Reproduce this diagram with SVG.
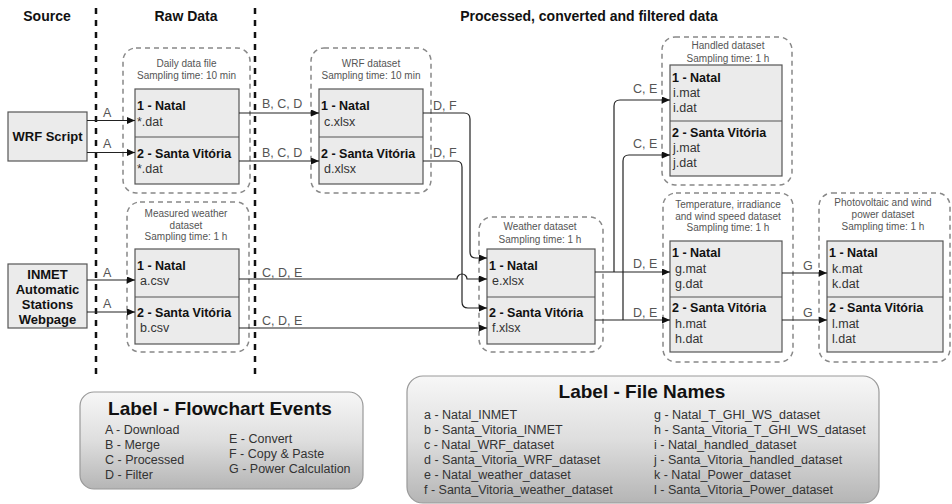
<svg xmlns="http://www.w3.org/2000/svg" width="952" height="504" viewBox="0 0 952 504">
<defs>
<marker id="arr" markerUnits="userSpaceOnUse" markerWidth="8" markerHeight="7" refX="8" refY="3.5" orient="auto"><path d="M0,0 L8,3.5 L0,7 z" fill="#111"/></marker>
<linearGradient id="lg" x1="0" y1="0" x2="0" y2="1"><stop offset="0" stop-color="#f7f7f7"/><stop offset="0.5" stop-color="#dedede"/><stop offset="1" stop-color="#b5b5b5"/></linearGradient>
<style>
text{font-family:"Liberation Sans",Arial,sans-serif}
.hdr{font-size:14px;font-weight:bold;fill:#111}
.grp{fill:none;stroke:#888;stroke-width:1.5;stroke-dasharray:5 4}
.box{fill:#ebebeb;stroke:#555;stroke-width:1.2}
.src{fill:#ebebeb;stroke:#555;stroke-width:1.2}
.gt{font-size:10px;fill:#555;text-anchor:middle}
.bt{font-size:12.5px;font-weight:bold;fill:#111}
.ft{font-size:12.5px;fill:#333}
.el{font-size:12.5px;fill:#555}
.st{font-size:13px;font-weight:bold;fill:#111;text-anchor:middle}
.sep{stroke:#111;stroke-width:2.5;stroke-dasharray:6 6;fill:none}
.con path{fill:none;stroke:#222;stroke-width:1.2}
.leg{fill:url(#lg);stroke:#999;stroke-width:1.2}
.lt{font-size:19px;font-weight:bold;fill:#111;text-anchor:middle}
.li{font-size:12.5px;fill:#333}
</style>
</defs>
<rect width="952" height="504" fill="#fff"/>

<g id="headers">
<text class="hdr" x="47" y="21" text-anchor="middle">Source</text>
<text class="hdr" x="186" y="21" text-anchor="middle">Raw Data</text>
<text class="hdr" x="589" y="21" text-anchor="middle">Processed, converted and filtered data</text>
<line class="sep" x1="96" y1="8" x2="96" y2="378"/>
<line class="sep" x1="255" y1="8" x2="255" y2="378"/>
</g>

<g id="wrf-script">
<rect class="src" x="8" y="112" width="79" height="49"/>
<text class="st" x="47.5" y="141">WRF Script</text>
</g>

<g id="inmet">
<rect class="src" x="8" y="264" width="79" height="64"/>
<text class="st" x="47.5" y="279">INMET</text>
<text class="st" x="47.5" y="294">Automatic</text>
<text class="st" x="47.5" y="309">Stations</text>
<text class="st" x="47.5" y="324">Webpage</text>
</g>

<g id="daily-data">
<rect class="grp" x="123" y="48" width="127" height="145" rx="13"/>
<text class="gt" x="186.5" y="67">Daily data file</text>
<text class="gt" x="186.5" y="79">Sampling time: 10 min</text>
<rect class="box" x="135" y="89" width="104" height="95"/>
<line x1="135" y1="137" x2="239" y2="137" stroke="#555" stroke-width="1.2"/>
<text class="bt" x="137" y="110">1 - Natal</text>
<text class="ft" x="137" y="125.5">*.dat</text>
<text class="bt" x="137" y="158">2 - Santa Vitória</text>
<text class="ft" x="137" y="173">*.dat</text>
</g>

<g id="wrf-dataset">
<rect class="grp" x="311" y="48" width="120" height="145" rx="13"/>
<text class="gt" x="371" y="67">WRF dataset</text>
<text class="gt" x="371" y="79">Sampling time: 10 min</text>
<rect class="box" x="319" y="89" width="104" height="95"/>
<line x1="319" y1="137" x2="423" y2="137" stroke="#555" stroke-width="1.2"/>
<text class="bt" x="321" y="110">1 - Natal</text>
<text class="ft" x="324" y="125.5">c.xlsx</text>
<text class="bt" x="321" y="158">2 - Santa Vitória</text>
<text class="ft" x="324" y="173">d.xlsx</text>
</g>

<g id="measured-weather">
<rect class="grp" x="127" y="202" width="122" height="150" rx="13"/>
<text class="gt" x="186" y="217">Measured weather</text>
<text class="gt" x="186" y="228.5">dataset</text>
<text class="gt" x="186" y="240">Sampling time: 1 h</text>
<rect class="box" x="135" y="249" width="104" height="95"/>
<line x1="135" y1="297" x2="239" y2="297" stroke="#555" stroke-width="1.2"/>
<text class="bt" x="137" y="270">1 - Natal</text>
<text class="ft" x="140" y="284.5">a.csv</text>
<text class="bt" x="137" y="317">2 - Santa Vitória</text>
<text class="ft" x="140" y="332">b.csv</text>
</g>

<g id="weather-dataset">
<rect class="grp" x="479" y="217" width="124" height="135" rx="13"/>
<text class="gt" x="540" y="230">Weather dataset</text>
<text class="gt" x="540" y="243">Sampling time: 1 h</text>
<rect class="box" x="487" y="249" width="108" height="95"/>
<line x1="487" y1="297" x2="595" y2="297" stroke="#555" stroke-width="1.2"/>
<text class="bt" x="489" y="270">1 - Natal</text>
<text class="ft" x="492" y="284.5">e.xlsx</text>
<text class="bt" x="489" y="317">2 - Santa Vitória</text>
<text class="ft" x="492" y="332">f.xlsx</text>
</g>

<g id="handled-dataset">
<rect class="grp" x="662" y="37" width="130" height="148" rx="13"/>
<text class="gt" x="728" y="49">Handled dataset</text>
<text class="gt" x="728" y="61.5">Sampling time: 1 h</text>
<rect class="box" x="670" y="65" width="112" height="111"/>
<line x1="670" y1="121" x2="782" y2="121" stroke="#555" stroke-width="1.2"/>
<text class="bt" x="672" y="82">1 - Natal</text>
<text class="ft" x="673" y="97">i.mat</text>
<text class="ft" x="673" y="112">i.dat</text>
<text class="bt" x="672" y="137">2 - Santa Vitória</text>
<text class="ft" x="673" y="152">j.mat</text>
<text class="ft" x="673" y="167">j.dat</text>
</g>

<g id="temperature-dataset">
<rect class="grp" x="663" y="193" width="130" height="169" rx="13"/>
<text class="gt" x="728" y="208">Temperature, irradiance</text>
<text class="gt" x="728" y="219.5">and wind speed dataset</text>
<text class="gt" x="728" y="231">Sampling time: 1 h</text>
<rect class="box" x="670" y="241" width="112" height="111"/>
<line x1="670" y1="297" x2="782" y2="297" stroke="#555" stroke-width="1.2"/>
<text class="bt" x="672" y="257">1 - Natal</text>
<text class="ft" x="675" y="273">g.mat</text>
<text class="ft" x="675" y="288">g.dat</text>
<text class="bt" x="672" y="312">2 - Santa Vitória</text>
<text class="ft" x="675" y="328">h.mat</text>
<text class="ft" x="675" y="343">h.dat</text>
</g>

<g id="power-dataset">
<rect class="grp" x="819" y="193" width="131" height="169" rx="13"/>
<text class="gt" x="883" y="206">Photovoltaic and wind</text>
<text class="gt" x="883" y="218">power dataset</text>
<text class="gt" x="883" y="229.5">Sampling time: 1 h</text>
<rect class="box" x="827" y="241" width="116" height="111"/>
<line x1="827" y1="297" x2="943" y2="297" stroke="#555" stroke-width="1.2"/>
<text class="bt" x="829" y="257">1 - Natal</text>
<text class="ft" x="832" y="273">k.mat</text>
<text class="ft" x="832" y="288">k.dat</text>
<text class="bt" x="829" y="312">2 - Santa Vitória</text>
<text class="ft" x="832" y="328">l.mat</text>
<text class="ft" x="832" y="343">l.dat</text>
</g>

<g id="connectors" class="con">
<path d="M87,120.5 H135" marker-end="url(#arr)"/>
<path d="M87,152.5 H135" marker-end="url(#arr)"/>
<path d="M87,280 H135" marker-end="url(#arr)"/>
<path d="M87,312 H135" marker-end="url(#arr)"/>
<path d="M239,113 H319" marker-end="url(#arr)"/>
<path d="M239,161 H319" marker-end="url(#arr)"/>
<path d="M423,113 H464 Q470,113 470,119 V252 Q470,258 476,258 H487" marker-end="url(#arr)"/>
<path d="M423,161 H456 Q462,161 462,167 V302 Q462,308 468,308 H487" marker-end="url(#arr)"/>
<path d="M239,279 H457 A5,5 0 0 1 467,279 H487" marker-end="url(#arr)"/>
<path d="M239,328 H487" marker-end="url(#arr)"/>
<path d="M595,272 H670" marker-end="url(#arr)"/>
<path d="M595,320 H670" marker-end="url(#arr)"/>
<path d="M614,272 V106 Q614,100 620,100 H670" marker-end="url(#arr)"/>
<path d="M623,320 V161 Q623,155 629,155 H670" marker-end="url(#arr)"/>
<path d="M782,273 H827" marker-end="url(#arr)"/>
<path d="M782,320 H827" marker-end="url(#arr)"/>
<text class="el" x="103" y="117">A</text>
<text class="el" x="103" y="148">A</text>
<text class="el" x="103" y="277">A</text>
<text class="el" x="103" y="308">A</text>
<text class="el" x="262" y="108">B, C, D</text>
<text class="el" x="262" y="157">B, C, D</text>
<text class="el" x="433" y="110">D, F</text>
<text class="el" x="433" y="157">D, F</text>
<text class="el" x="262" y="277">C, D, E</text>
<text class="el" x="262" y="325">C, D, E</text>
<text class="el" x="633" y="93">C, E</text>
<text class="el" x="633" y="148">C, E</text>
<text class="el" x="633" y="268">D, E</text>
<text class="el" x="633" y="317">D, E</text>
<text class="el" x="803" y="270">G</text>
<text class="el" x="803" y="317">G</text>
</g>

<g id="legend-events">
<rect class="leg" x="80" y="392" width="283" height="97" rx="14"/>
<text class="lt" x="220" y="415">Label - Flowchart Events</text>
<text class="li" x="105" y="434">A - Download</text>
<text class="li" x="105" y="449">B - Merge</text>
<text class="li" x="105" y="464">C - Processed</text>
<text class="li" x="105" y="479">D - Filter</text>
<text class="li" x="229" y="443">E - Convert</text>
<text class="li" x="229" y="458">F - Copy &amp; Paste</text>
<text class="li" x="229" y="473">G - Power Calculation</text>
</g>

<g id="legend-files">
<rect class="leg" x="407" y="376" width="472" height="127" rx="16"/>
<text class="lt" x="642" y="398">Label - File Names</text>
<text class="li" x="424" y="419">a - Natal_INMET</text>
<text class="li" x="424" y="434">b - Santa_Vitoria_INMET</text>
<text class="li" x="424" y="449">c - Natal_WRF_dataset</text>
<text class="li" x="424" y="464">d - Santa_Vitoria_WRF_dataset</text>
<text class="li" x="424" y="479">e - Natal_weather_dataset</text>
<text class="li" x="424" y="494">f - Santa_Vitoria_weather_dataset</text>
<text class="li" x="654" y="419">g - Natal_T_GHI_WS_dataset</text>
<text class="li" x="654" y="434">h - Santa_Vitoria_T_GHI_WS_dataset</text>
<text class="li" x="654" y="449">i - Natal_handled_dataset</text>
<text class="li" x="654" y="464">j - Santa_Vitoria_handled_dataset</text>
<text class="li" x="654" y="479">k - Natal_Power_dataset</text>
<text class="li" x="654" y="494">l - Santa_Vitoria_Power_dataset</text>
</g>
</svg>
